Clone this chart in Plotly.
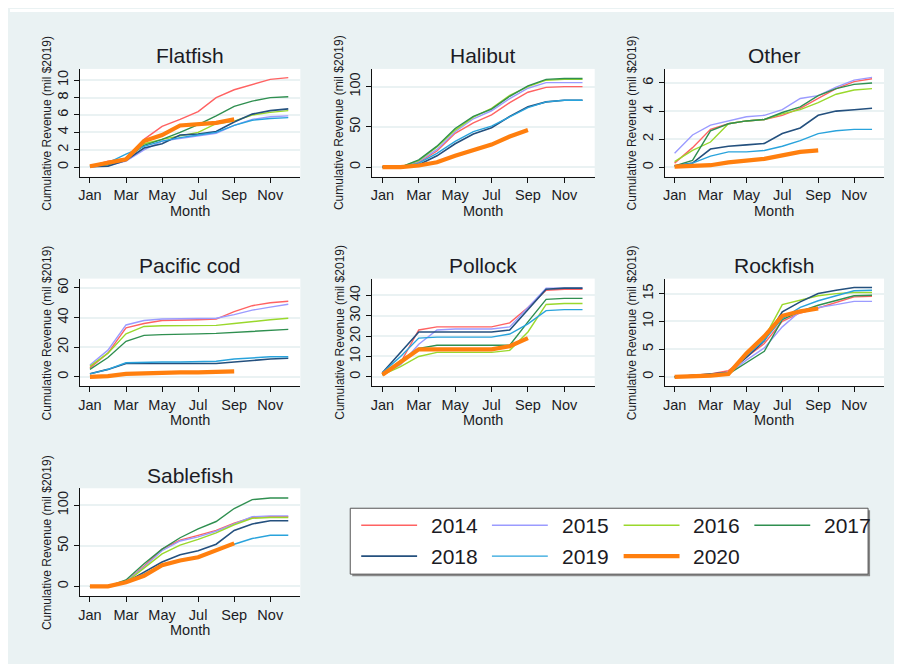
import plotly.graph_objects as go

W, H = 902, 664
OFF = 8  # browser page margin offset

months = list(range(1, 13))
years = [2014, 2015, 2016, 2017, 2018, 2019, 2020]
year_colors = ["#ff6262", "#9b9bff", "#9ad82c", "#2f8f50", "#24507e", "#29a3dc", "#ff7f0e"]
year_widths = [1.4, 1.4, 1.4, 1.4, 1.6, 1.4, 4.2]

tick_months = [1, 3, 5, 7, 9, 11]
tick_labels = ["Jan", "Mar", "May", "Jul", "Sep", "Nov"]

species = ["Flatfish", "Halibut", "Other", "Pacific cod", "Pollock", "Rockfish", "Sablefish"]

# rows: 2014 .. 2020 (2020 through September)
flatfish = [
    [0.1, 0.7, 1.0, 3.2, 4.7, 5.5, 6.4, 8.0, 8.9, 9.5, 10.1, 10.3],
    [0.05, 0.2, 0.7, 2.0, 3.0, 3.3, 3.6, 3.9, 4.8, 5.5, 5.8, 5.9],
    [0.1, 0.3, 1.0, 2.7, 3.2, 3.6, 4.0, 5.0, 5.3, 6.0, 6.3, 6.5],
    [0.1, 0.3, 1.0, 2.5, 3.2, 4.0, 4.9, 5.9, 7.0, 7.6, 8.0, 8.1],
    [0.05, 0.1, 0.8, 2.2, 2.7, 3.7, 3.8, 4.1, 5.2, 6.1, 6.5, 6.7],
    [0.1, 0.5, 1.5, 2.4, 3.0, 3.4, 3.7, 4.0, 4.8, 5.4, 5.6, 5.7],
    [0.1, 0.5, 0.9, 3.0, 3.7, 4.8, 4.9, 5.1, 5.5],
]
halibut = [
    [0, 0, 6, 20, 42, 55, 65, 80, 93, 99, 100, 100],
    [0, 0, 7, 22, 44, 60, 70, 85, 98, 105, 105, 105],
    [0, 0, 8, 25, 46, 62, 73, 89, 100, 108, 109, 109],
    [0, 0, 9, 26, 48, 63, 72, 88, 101, 109, 110, 110],
    [0, 0, 3, 14, 29, 41, 49, 63, 75, 81, 83, 83],
    [0, 0, 5, 17, 32, 44, 51, 63, 74, 81, 83, 83],
    [0, 0, 2, 6, 14, 21, 28, 38, 46],
]
other = [
    [0.3, 1.4, 2.7, 3.1, 3.3, 3.4, 3.7, 4.2, 4.9, 5.6, 6.1, 6.3],
    [1.0, 2.3, 3.0, 3.3, 3.6, 3.7, 4.1, 4.9, 5.1, 5.7, 6.2, 6.4],
    [0.4, 1.2, 1.8, 3.1, 3.3, 3.4, 3.8, 4.1, 4.6, 5.2, 5.5, 5.6],
    [0.1, 0.5, 2.6, 3.1, 3.3, 3.4, 3.9, 4.3, 5.1, 5.6, 5.9, 6.0],
    [0.1, 0.3, 1.3, 1.5, 1.6, 1.7, 2.4, 2.8, 3.7, 4.0, 4.1, 4.2],
    [0.1, 0.3, 0.8, 1.1, 1.1, 1.2, 1.5, 1.9, 2.4, 2.6, 2.7, 2.7],
    [0.05, 0.1, 0.15, 0.35, 0.45, 0.6, 0.85, 1.1, 1.2],
]
pacific_cod = [
    [6, 16, 33, 36, 38, 38, 38.5, 39, 44, 48, 50, 51],
    [8, 18, 35, 38, 39, 39, 39, 39.5, 42, 45, 47, 49],
    [7, 16, 29, 34, 34.5, 34.5, 34.5, 34.7, 36, 37.5, 38.5, 39.5],
    [5, 13, 24, 28, 28.5, 29, 29, 29.3, 30, 30.5, 31, 32],
    [2, 5, 9, 9, 9, 9, 9, 9, 10, 11, 12, 12.5],
    [2, 5, 9.5, 10, 10, 10, 10, 10.5, 12, 13, 13.5, 13.5],
    [0, 0.5, 2, 2.5, 2.8, 3, 3, 3.2, 3.6],
]
pollock = [
    [1, 7, 23, 24.5, 24.5, 24.5, 24.5, 26.5, 34, 42.5, 43, 43],
    [1, 6, 16, 23, 23.5, 23.5, 23.5, 24.5, 34, 43.5, 43.5, 43.5],
    [1, 5, 10, 12, 12, 12, 12, 13, 22, 35.5, 36, 36],
    [1, 8, 14, 15.5, 15.5, 15.5, 15.5, 15.5, 27, 38, 38.5, 38.5],
    [2, 12, 22, 22, 22, 22, 22, 23, 33, 43, 43.5, 43.5],
    [2, 10, 19, 19.5, 19.5, 19.5, 19.5, 21, 26, 32.5, 33, 33],
    [1, 7, 13.5, 13.5, 13.5, 13.5, 13.5, 15, 19],
]
rockfish = [
    [0, 0.2, 0.5, 1.1, 3.5, 6.0, 10.0, 11.5, 12.4, 13.4, 14.4, 14.5],
    [0, 0.1, 0.3, 0.6, 3.0, 5.2, 9.0, 11.8, 12.5, 13.0, 13.6, 13.6],
    [0, 0.2, 0.4, 0.7, 4.0, 7.0, 13.0, 13.8, 14.6, 15.0, 15.2, 15.2],
    [0, 0.1, 0.3, 0.5, 2.5, 4.6, 10.3, 11.8, 12.9, 13.7, 14.6, 14.7],
    [0, 0.2, 0.5, 0.8, 3.5, 6.5, 11.7, 13.5, 15.0, 15.6, 16.1, 16.1],
    [0, 0.2, 0.4, 0.8, 3.8, 6.6, 10.5, 12.5, 13.7, 14.6, 15.5, 15.6],
    [0, 0.05, 0.2, 0.5, 4.2, 7.3, 11.0, 11.8, 12.3],
]
sablefish = [
    [0, 0, 6, 25, 46, 57, 63, 69, 78, 85, 86, 86],
    [0, 0, 6, 24, 44, 56, 61, 68, 77, 86, 87, 87],
    [0, 0, 5, 22, 40, 51, 58, 66, 76, 84, 85, 85],
    [0, 0, 8, 28, 46, 60, 71, 80, 96, 107, 109, 109],
    [0, 0, 5, 17, 30, 39, 44, 52, 69, 77, 81, 81],
    [0, 0, 5, 15, 26, 32, 36, 44, 52, 59, 63, 63],
    [0, 0, 5, 13, 26, 32, 36, 44, 53],
]
series = [flatfish, halibut, other, pacific_cod, pollock, rockfish, sablefish]

y_tick_values = [
    [0, 2, 4, 6, 8, 10],
    [0, 50, 100],
    [0, 2, 4, 6],
    [0, 20, 40, 60],
    [0, 10, 20, 30, 40],
    [0, 5, 10, 15],
    [0, 50, 100],
]
y_ranges = [
    [-1.1, 11.3],
    [-12, 122],
    [-0.67, 7.0],
    [-6.5, 66.3],
    [-4.7, 48.2],
    [-1.74, 17.7],
    [-12, 121],
]
x_range = [0.44, 12.67]

# panel pixel boxes (screen coordinates)
cols = [(78, 299), (371, 594), (664, 884)]
rows = [(68, 176), (278, 386), (488, 596)]

BG = "#eaf2f3"
FONT = "Liberation Sans, Arial, sans-serif"
TXT = "#1b1b24"


def px_x(x):
    return (x - OFF) / W


def px_y(y):
    return 1 - (y - OFF) / H


fig = go.Figure()
layout = dict(
    width=W, height=H, autosize=False,
    margin=dict(l=0, r=0, t=0, b=0),
    paper_bgcolor=BG, plot_bgcolor="white",
    showlegend=False,
    font=dict(family=FONT, color=TXT),
)
annotations = []
shapes = []

for i, name in enumerate(species):
    r, c = divmod(i, 3)
    x0, x1 = cols[c]
    y0, y1 = rows[r]
    ax = "" if i == 0 else str(i + 1)
    for k, yr in enumerate(years):
        vals = series[i][k]
        fig.add_trace(go.Scatter(
            x=months[:len(vals)], y=vals, mode="lines",
            name=str(yr),
            line=dict(color=year_colors[k], width=year_widths[k]),
            xaxis="x" + ax, yaxis="y" + ax,
            hoverinfo="skip",
        ))
    layout["xaxis" + ax] = dict(
        domain=[px_x(x0), px_x(x1)], anchor="y" + ax,
        range=x_range, tickvals=tick_months, ticktext=tick_labels,
        showgrid=False, zeroline=False,
        showline=True, linecolor="#111", linewidth=1,
        ticks="outside", ticklen=5, tickcolor="#111",
        tickfont=dict(size=14.5, family=FONT, color=TXT),
    )
    layout["yaxis" + ax] = dict(
        domain=[px_y(y1), px_y(y0)], anchor="x" + ax,
        range=y_ranges[i], tickvals=y_tick_values[i],
        showgrid=True, gridcolor=BG, gridwidth=1.5, zeroline=False,
        showline=True, linecolor="#111", linewidth=1,
        ticks="outside", ticklen=5, tickcolor="#111",
        tickangle=-90,
        tickfont=dict(size=14.5, family=FONT, color=TXT),
    )
    cx = (x0 + x1) / 2
    annotations.append(dict(
        text=name, x=px_x(cx), y=px_y(y0 - 13), xref="paper", yref="paper",
        xanchor="center", yanchor="middle", showarrow=False,
        font=dict(size=21, family=FONT, color=TXT),
    ))
    annotations.append(dict(
        text="Month", x=px_x(cx), y=px_y(y1 + 34), xref="paper", yref="paper",
        xanchor="center", yanchor="middle", showarrow=False,
        font=dict(size=14.5, family=FONT, color=TXT),
    ))
    annotations.append(dict(
        text="Cumulative Revenue (mil $2019)", x=px_x(x0 - 33), y=px_y((y0 + y1) / 2),
        xref="paper", yref="paper", xanchor="center", yanchor="middle",
        textangle=-90, showarrow=False,
        font=dict(size=12, family=FONT, color=TXT),
    ))

# thin white strip at the top (reference starts its background at y=11)
shapes.append(dict(type="rect", xref="paper", yref="paper", x0=0, x1=1, y0=px_y(11), y1=1,
                   fillcolor="white", line=dict(width=0), layer="below"))

# legend box
lx0, lx1, ly0, ly1 = 349, 868, 508, 574
shapes.append(dict(type="rect", xref="paper", yref="paper",
                   x0=px_x(lx0 + 2), x1=px_x(lx1 + 2), y0=px_y(ly1 + 2), y1=px_y(ly0 + 2),
                   fillcolor="#8a8a8a", line=dict(width=0)))
shapes.append(dict(type="rect", xref="paper", yref="paper",
                   x0=px_x(lx0), x1=px_x(lx1), y0=px_y(ly1), y1=px_y(ly0),
                   fillcolor="white", line=dict(color="#555", width=1)))
col_x = [360, 491, 623, 754]
row_y = [525, 556]
for k, yr in enumerate(years):
    rr, cc = divmod(k, 4)
    sx = col_x[cc]
    sy = row_y[rr]
    shapes.append(dict(type="line", xref="paper", yref="paper",
                       x0=px_x(sx), x1=px_x(sx + 56), y0=px_y(sy), y1=px_y(sy),
                       line=dict(color=year_colors[k], width=year_widths[k])))
    annotations.append(dict(
        text=str(yr), x=px_x(sx + 68), y=px_y(sy), xref="paper", yref="paper",
        xanchor="left", yanchor="middle", showarrow=False,
        font=dict(size=21, family=FONT, color=TXT),
    ))

layout["annotations"] = annotations
layout["shapes"] = shapes
fig.update_layout(**layout)
fig.write_html("out.html")
